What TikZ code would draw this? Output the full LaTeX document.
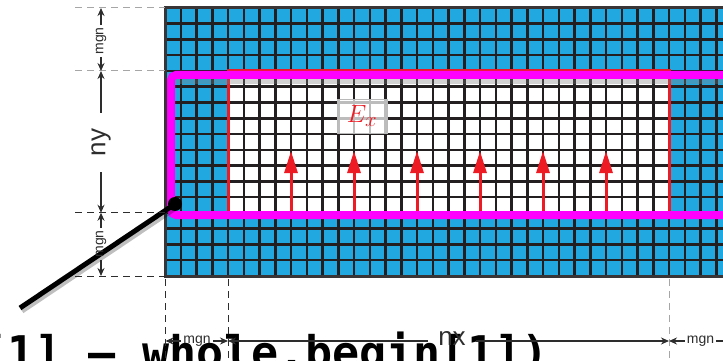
\documentclass[tikz,border=0pt]{standalone}
\usepackage{fontspec}
\setsansfont{Liberation Sans}
\newfontfamily\codefont{DejaVu Sans Mono}
\usetikzlibrary{arrows.meta}

\definecolor{cellblue}{RGB}{34,168,224}
\definecolor{gridblack}{RGB}{35,31,32}
\definecolor{padmagenta}{RGB}{255,0,255}
\definecolor{fieldred}{RGB}{237,28,36}
\definecolor{dimgray}{RGB}{45,45,45}

\begin{document}
\begin{tikzpicture}[x=1pt, y=-1pt,
  gridln/.style={line width=2.5pt, draw=gridblack},
  guide/.style={dashed, dash pattern=on 7pt off 5pt, line width=1pt},
  dimarr/.style={-{Stealth[length=8pt, width=7pt]}, line width=1.4pt, draw=dimgray},
  small/.style={font=\sffamily\fontsize{14}{15}\selectfont, text=dimgray, inner ysep=0pt, inner xsep=2pt},
  big/.style={font=\sffamily\fontsize{26}{28}\selectfont, text=dimgray, inner ysep=0pt},
  field/.style={-{Triangle[length=22pt, width=13pt]}, line width=3pt, draw=fieldred},
  exlbl/.style={fill=white, fill opacity=0.7, text opacity=1, draw=gray!55, line width=1pt,
                minimum width=50pt, minimum height=34pt, text=fieldred,
                font=\fontsize{29}{30}\selectfont}
]
  \useasboundingbox (0,0) rectangle (723,361);

  % code text behind everything
  \node[anchor=base west, inner sep=0pt, font=\codefont\bfseries\fontsize{45}{50}\selectfont]
    (code) at (-20,368) {[1] – whole.begin[1])};

  % cells
  \fill[cellblue] (165,8) rectangle (740,276);
  \fill[white] (228,71) rectangle (669,212.75);
  \foreach \i in {0,...,36}
    \draw[gridln] (165+\i*15.75,8) -- (165+\i*15.75,276);
  \foreach \j in {0,...,17}
    \draw[gridln] (165,8+\j*15.75) -- (740,8+\j*15.75);

  % field region and padding frame
  \draw[fieldred, line width=3pt] (228,71) rectangle (669,212.75);
  \draw[gray, opacity=0.35, line width=6pt] (174,81) -- (740,81);
  \draw[padmagenta, line width=8pt, rounded corners=5pt] (171,75) rectangle (760,215);
  \draw[gridblack!90, line width=3pt] (165,8) rectangle (760,276);

  % field arrows
  \foreach \k in {8,12,...,28}
    \draw[field] (165+\k*15.75,211) -- (165+\k*15.75,151);
  \node[exlbl] (ex) at (362,116) {$E_x$};

  % pointer
  \node[circle, fill=black, inner sep=0pt, minimum size=14pt] (pin) at (175,204) {};
  \coordinate (pintail) at (20,308);
  \draw[black, opacity=0.25, line width=5pt] ([shift={(2,3)}]pin.center) -- ([shift={(2,3)}]pintail);
  \draw[black, line width=5pt] (pin.center) -- (pintail);

  % left dimensions
  \draw[guide, gray!70] (75,8) -- (165,8);
  \draw[guide, gray!70] (75,71) -- (165,71);
  \draw[guide, dimgray] (75,212.75) -- (165,212.75);
  \draw[guide, dimgray] (75,276) -- (165,276);
  \coordinate (ya) at (101,8);
  \coordinate (yb) at (101,71);
  \coordinate (yc) at (101,212.75);
  \coordinate (yd) at (101,276);
  \node[small, rotate=90] (mgnT) at (101,41) {mgn};
  \node[big, rotate=90, inner xsep=16pt] (nyL) at (101,142.5) {ny};
  \node[small, rotate=90] (mgnB) at (101,244) {mgn};
  \draw[dimarr] (mgnT) -- (ya);
  \draw[dimarr] (mgnT) -- (yb);
  \draw[dimarr] (nyL) -- (yb);
  \draw[dimarr] (nyL) -- (yc);
  \draw[dimarr] (mgnB) -- (yc);
  \draw[dimarr] (mgnB) -- (yd);

  % bottom dimensions
  \draw[guide, dimgray] (165.5,279) -- (165.5,361);
  \draw[guide, dimgray] (228,279) -- (228,361);
  \draw[guide, gray!70] (669,279) -- (669,361);
  \coordinate (xa) at (165.5,341);
  \coordinate (xb) at (228,341);
  \coordinate (xc) at (669,341);
  \coordinate (xd) at (732,341);
  \node[small] (mgnL) at (197,341) {mgn};
  \node[big, inner xsep=10pt] (nxL) at (452,339) {nx};
  \node[small] (mgnR) at (700.5,341) {mgn};
  \draw[dimarr] (mgnL) -- (xa);
  \draw[dimarr] (mgnL) -- (xb);
  \draw[dimarr] (nxL.west |- xb) -- (xb);
  \draw[dimarr] (nxL.east |- xc) -- (xc);
  \draw[dimarr] (mgnR) -- (xc);
  \draw[dimarr] (mgnR) -- (xd);
\end{tikzpicture}
\end{document}
